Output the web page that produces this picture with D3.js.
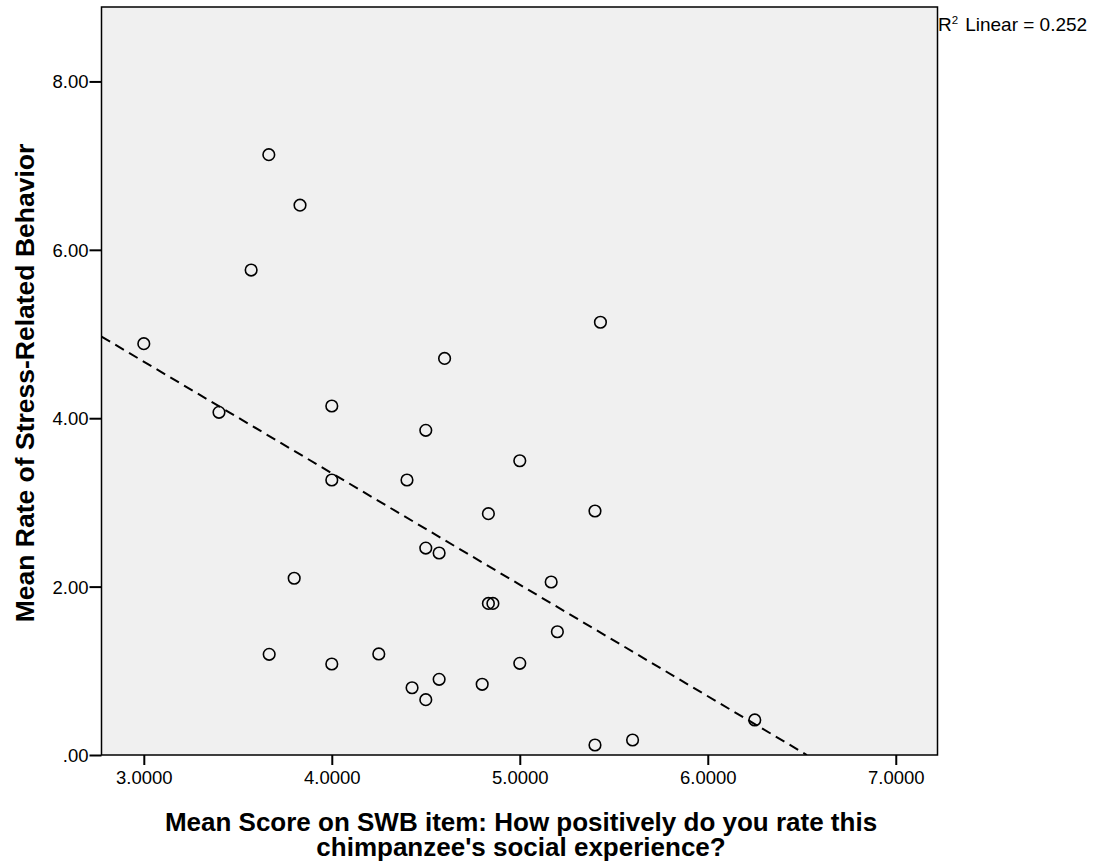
<!DOCTYPE html>
<html>
<head>
<meta charset="utf-8">
<script src="https://d3js.org/d3.v7.min.js"></script>
<style>
  html, body { margin: 0; padding: 0; background: #fff; }
  svg { display: block; font-family: "Liberation Sans", Arial, sans-serif; }
</style>
</head>
<body>
<svg id="chart" width="1098" height="862"></svg>
<script>
// SWB social-experience score per chimpanzee
const swbScore = [
  3.665, 3.831, 3.571, 3.000, 3.400, 4.000, 4.600, 5.429,
  4.500, 5.000, 4.000, 4.400, 4.833, 5.400, 4.500, 4.571,
  3.800, 5.167, 4.833, 4.857, 5.200, 3.667, 4.000, 4.250,
  5.000, 4.427, 4.571, 4.800, 4.500, 6.250, 5.400, 5.600
];
// Mean rate of stress-related behavior, same order
const stressRate = [
  7.13, 6.53, 5.76, 4.885, 4.07, 4.145, 4.71, 5.14,
  3.856, 3.495, 3.266, 3.266, 2.866, 2.898, 2.458, 2.399,
  2.099, 2.055, 1.80, 1.80, 1.464, 1.196, 1.081, 1.20,
  1.089, 0.799, 0.899, 0.84, 0.657, 0.416, 0.119, 0.178
];
const xTicks = [3, 4, 5, 6, 7];
const yTicks = [0, 2, 4, 6, 8];
const r2Text = "0.252";

const svg = d3.select("#chart");
const plot = { left: 101.5, right: 937.5, top: 7, bottom: 755 };

const x = d3.scaleLinear().domain([2.775, 7.222]).range([plot.left, plot.right]);
const y = d3.scaleLinear().domain([0, 8.884]).range([plot.bottom, plot.top]);

// panel background
svg.append("rect")
  .attr("x", plot.left).attr("y", plot.top)
  .attr("width", plot.right - plot.left).attr("height", plot.bottom - plot.top)
  .attr("fill", "#f0f0f0");

// least-squares fit
const n = swbScore.length;
const mx = d3.mean(swbScore), my = d3.mean(stressRate);
let sxy = 0, sxx = 0;
for (let i = 0; i < n; i++) {
  sxy += (swbScore[i] - mx) * (stressRate[i] - my);
  sxx += (swbScore[i] - mx) ** 2;
}
const slope = sxy / sxx, intercept = my - slope * mx;
const xZero = -intercept / slope;
const fitX = [x.domain()[0], Math.min(xZero, x.domain()[1])];

svg.append("clipPath").attr("id", "panel")
  .append("rect")
  .attr("x", plot.left).attr("y", plot.top)
  .attr("width", plot.right - plot.left).attr("height", plot.bottom - plot.top);

svg.append("path")
  .attr("clip-path", "url(#panel)")
  .attr("d", d3.line().x(d => x(d)).y(d => y(intercept + slope * d))(fitX))
  .attr("fill", "none")
  .attr("stroke", "#000")
  .attr("stroke-width", 2)
  .attr("stroke-dasharray", "10,6");

// points
svg.append("g").selectAll("circle")
  .data(d3.range(n))
  .join("circle")
  .attr("cx", i => x(swbScore[i]))
  .attr("cy", i => y(stressRate[i]))
  .attr("r", 5.8)
  .attr("fill", "none")
  .attr("stroke", "#000")
  .attr("stroke-width", 1.6);

// frame
svg.append("rect")
  .attr("x", plot.left).attr("y", plot.top)
  .attr("width", plot.right - plot.left).attr("height", plot.bottom - plot.top)
  .attr("fill", "none").attr("stroke", "#000").attr("stroke-width", 1.5);

// axes
const xAxis = d3.axisBottom(x).tickValues(xTicks).tickSize(10).tickPadding(6)
  .tickFormat(d3.format(".4f"));
const yAxis = d3.axisLeft(y).tickValues(yTicks).tickSize(12).tickPadding(1)
  .tickFormat(d => d === 0 ? ".00" : d3.format(".2f")(d));

const gx = svg.append("g").attr("transform", `translate(0,${plot.bottom})`).call(xAxis);
const gy = svg.append("g").attr("transform", `translate(${plot.left},0)`).call(yAxis);
[gx, gy].forEach(g => {
  g.select(".domain").remove();
  g.selectAll(".tick line").attr("stroke", "#000").attr("stroke-width", 2);
  g.selectAll(".tick text")
    .attr("fill", "#000")
    .style("font-family", "'Liberation Sans', Arial, sans-serif")
    .style("font-size", "18.5px");
});
gy.selectAll(".tick text").attr("dy", "0.35em");
gx.selectAll(".tick text").attr("dy", "0.71em");

// axis titles
svg.append("text")
  .attr("transform", `translate(33.5,${(plot.top + plot.bottom) / 2 + 2}) rotate(-90)`)
  .attr("text-anchor", "middle")
  .style("font-size", "26.5px").style("font-weight", "bold")
  .text("Mean Rate of Stress-Related Behavior");

const xTitle = svg.append("text")
  .attr("text-anchor", "middle")
  .style("font-size", "26px").style("font-weight", "bold");
xTitle.append("tspan").attr("x", 521).attr("y", 831)
  .text("Mean Score on SWB item: How positively do you rate this");
xTitle.append("tspan").attr("x", 521).attr("y", 856)
  .text("chimpanzee's social experience?");

// fit annotation
const r2 = svg.append("text").attr("x", 938).attr("y", 31)
  .style("font-size", "19px");
r2.append("tspan").text("R");
r2.append("tspan").attr("dy", -7).style("font-size", "11.5px").text("2");
r2.append("tspan").attr("dy", 7).attr("dx", 7).text("Linear = " + r2Text);
</script>
</body>
</html>
